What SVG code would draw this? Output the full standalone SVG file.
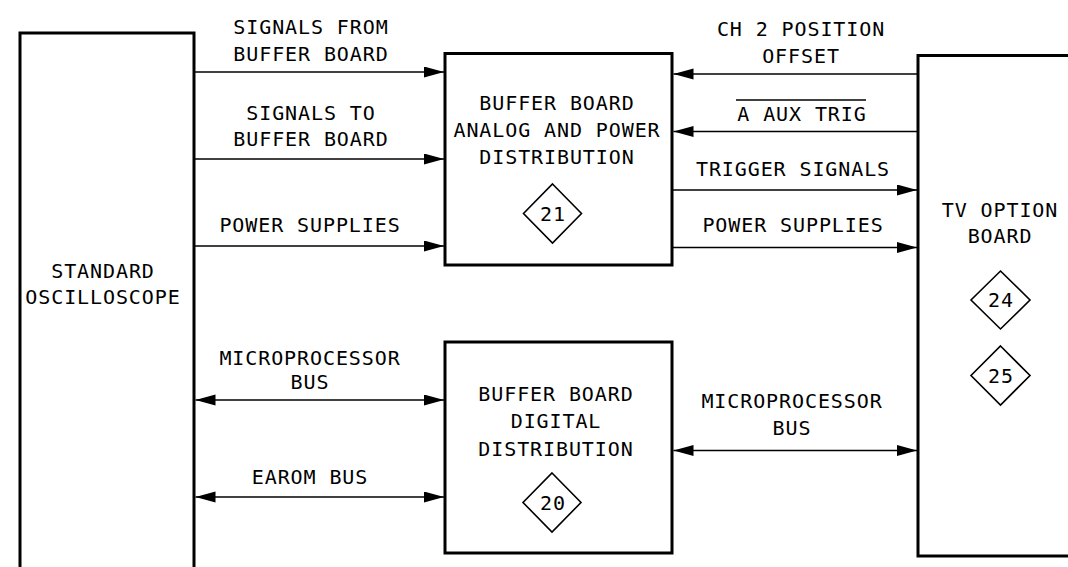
<svg xmlns="http://www.w3.org/2000/svg" width="1068" height="567" viewBox="0 0 1068 567">
<style>
.box{fill:none;stroke:#000;stroke-width:3}
.ln{fill:none;stroke:#000;stroke-width:1.6}
text{font-family:"DejaVu Sans Mono","Liberation Mono",monospace;font-size:20px;letter-spacing:0.9px;text-anchor:middle;fill:#000}
.dm{fill:none;stroke:#000;stroke-width:1.6}
</style>
<defs>
<marker id="ah" markerUnits="userSpaceOnUse" markerWidth="22" markerHeight="12" refX="20" refY="5.5" orient="auto-start-reverse" viewBox="0 0 22 12">
<path d="M0,0 L20,5.5 L0,11 z" fill="#000"/>
</marker>
</defs>
<rect width="1068" height="567" fill="#fff"/>
<g id="oscilloscope">
<path class="box" d="M20,580 V33 H194 V580"/>
<text x="103" y="278">STANDARD</text>
<text x="103" y="304">OSCILLOSCOPE</text>
</g>
<g id="buffer-analog">
<rect class="box" x="445" y="53.5" width="227" height="211.5"/>
<text x="557" y="110">BUFFER BOARD</text>
<text x="557" y="137">ANALOG AND POWER</text>
<text x="557" y="164">DISTRIBUTION</text>
<path class="dm" d="M552.5,184 L581.5,213.5 L552.5,243 L523.5,213.5 z"/>
<text x="553" y="220.5">21</text>
</g>
<g id="buffer-digital">
<rect class="box" x="445" y="342" width="227" height="211"/>
<text x="556" y="400.5">BUFFER BOARD</text>
<text x="556" y="428">DIGITAL</text>
<text x="556" y="455.5">DISTRIBUTION</text>
<path class="dm" d="M552,473 L581,502.5 L552,532 L523,502.5 z"/>
<text x="553" y="509.5">20</text>
</g>
<g id="tv-option">
<path class="box" d="M1075,55.5 H918 V556 H1075"/>
<text x="1000" y="216.5">TV OPTION</text>
<text x="1000" y="243">BOARD</text>
<path class="dm" d="M1000.5,271 L1030,300 L1000.5,329 L971,300 z"/>
<text x="1001" y="307">24</text>
<path class="dm" d="M1000.5,346 L1030,375.5 L1000.5,405 L971,375.5 z"/>
<text x="1001" y="382.5">25</text>
</g>
<g id="connectors">
<line class="ln" x1="194" y1="72" x2="444" y2="72" marker-end="url(#ah)"/>
<line class="ln" x1="194" y1="159" x2="444" y2="159" marker-end="url(#ah)"/>
<line class="ln" x1="194" y1="246" x2="444" y2="246" marker-end="url(#ah)"/>
<line class="ln" x1="917" y1="74" x2="673.5" y2="74" marker-end="url(#ah)"/>
<line class="ln" x1="917" y1="131.5" x2="673.5" y2="131.5" marker-end="url(#ah)"/>
<line class="ln" x1="672" y1="190" x2="917" y2="190" marker-end="url(#ah)"/>
<line class="ln" x1="672" y1="247.5" x2="917" y2="247.5" marker-end="url(#ah)"/>
<line class="ln" x1="195.5" y1="400" x2="444" y2="400" marker-start="url(#ah)" marker-end="url(#ah)"/>
<line class="ln" x1="195.5" y1="497" x2="444" y2="497" marker-start="url(#ah)" marker-end="url(#ah)"/>
<line class="ln" x1="673.5" y1="450.5" x2="917" y2="450.5" marker-start="url(#ah)" marker-end="url(#ah)"/>
</g>
<g id="connector-labels">
<text x="311" y="34">SIGNALS FROM</text>
<text x="311" y="61">BUFFER BOARD</text>
<text x="311" y="119.5">SIGNALS TO</text>
<text x="311" y="146">BUFFER BOARD</text>
<text x="310" y="232">POWER SUPPLIES</text>
<text x="310" y="365">MICROPROCESSOR</text>
<text x="310" y="388.5">BUS</text>
<text x="310" y="484">EAROM BUS</text>
<text x="801" y="36">CH 2 POSITION</text>
<text x="801" y="63">OFFSET</text>
<text x="802" y="120.5">A AUX TRIG</text>
<line x1="736" y1="100" x2="866" y2="100" stroke="#000" stroke-width="1.5"/>
<text x="793" y="176">TRIGGER SIGNALS</text>
<text x="793" y="232">POWER SUPPLIES</text>
<text x="792" y="407.5">MICROPROCESSOR</text>
<text x="792" y="435">BUS</text>
</g>
</svg>
